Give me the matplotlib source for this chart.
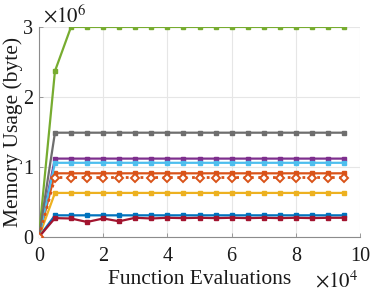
import matplotlib
matplotlib.use("Agg")
import matplotlib.pyplot as plt

plt.rcParams['font.family'] = ['Liberation Serif', 'DejaVu Serif']
plt.rcParams['mathtext.fontset'] = 'stix'

# Function evaluations (x 1e4)
evals = [0, 0.5, 1.0, 1.5, 2.0, 2.5, 3.0, 3.5, 4.0, 4.5,
         5.0, 5.5, 6.0, 6.5, 7.0, 7.5, 8.0, 8.5, 9.0, 9.5]

# Memory usage (x 1e6 bytes)
mem_blue = [0, 0.31, 0.31, 0.31, 0.31, 0.31, 0.31, 0.31, 0.31, 0.31,
            0.31, 0.31, 0.31, 0.31, 0.31, 0.31, 0.31, 0.31, 0.31, 0.31]
mem_orange = [0, 0.91, 0.91, 0.91, 0.91, 0.91, 0.91, 0.91, 0.91, 0.91,
              0.91, 0.91, 0.91, 0.91, 0.91, 0.91, 0.91, 0.91, 0.91, 0.91]
mem_yellow = [0, 0.63, 0.63, 0.63, 0.63, 0.63, 0.63, 0.63, 0.63, 0.63,
              0.63, 0.63, 0.63, 0.63, 0.63, 0.63, 0.63, 0.63, 0.63, 0.63]
mem_purple = [0, 1.12, 1.12, 1.12, 1.12, 1.12, 1.12, 1.12, 1.12, 1.12,
              1.12, 1.12, 1.12, 1.12, 1.12, 1.12, 1.12, 1.12, 1.12, 1.12]
mem_green = [0, 2.37, 3.0, 3.0, 3.0, 3.0, 3.0, 3.0, 3.0, 3.0,
             3.0, 3.0, 3.0, 3.0, 3.0, 3.0, 3.0, 3.0, 3.0, 3.0]
mem_lightblue = [0, 1.06, 1.06, 1.06, 1.06, 1.06, 1.06, 1.06, 1.06, 1.06,
                 1.06, 1.06, 1.06, 1.06, 1.06, 1.06, 1.06, 1.06, 1.06, 1.06]
mem_red = [0, 0.27, 0.265, 0.215, 0.265, 0.225, 0.275, 0.265, 0.275, 0.27,
           0.275, 0.27, 0.275, 0.27, 0.275, 0.27, 0.275, 0.27, 0.275, 0.275]
mem_gray = [0, 1.49, 1.49, 1.49, 1.49, 1.49, 1.49, 1.49, 1.49, 1.49,
            1.49, 1.49, 1.49, 1.49, 1.49, 1.49, 1.49, 1.49, 1.49, 1.49]
mem_orange_dot = [0, 0.85, 0.85, 0.85, 0.85, 0.85, 0.85, 0.85, 0.85, 0.85,
                  0.85, 0.85, 0.85, 0.85, 0.85, 0.85, 0.85, 0.85, 0.85, 0.85]

xticks = [0, 2, 4, 6, 8, 10]
yticks = [0, 1, 2, 3]

fig = plt.figure(figsize=(3.74, 2.93), dpi=100)
ax = fig.add_axes([0.104, 0.191, 0.859, 0.717])

lw = 1.6
ms = 3.2
series = [
    (mem_blue, '#0072BD'),
    (mem_orange, '#D95319'),
    (mem_yellow, '#EDB120'),
    (mem_purple, '#7E2F8E'),
    (mem_green, '#77AC30'),
    (mem_lightblue, '#4DBEEE'),
    (mem_gray, '#6e6e6e'),
    (mem_red, '#A2142F'),
]
for vals, c in series:
    ax.plot(evals, vals, '-', color=c, lw=lw, marker='s', ms=ms, mec=c, mfc=c, zorder=3)
ax.plot(evals, mem_orange_dot, ':', color='#D95319', lw=2.0, marker='D', ms=4,
        mfc='white', mec='#D95319', mew=1.4, zorder=4)

ax.set_xlim(0, 10)
ax.set_ylim(0, 3)
ax.set_xticks(xticks)
ax.set_yticks(yticks)
ax.set_xticklabels([str(v) for v in xticks])
ax.set_yticklabels([str(v) for v in yticks])
ax.grid(True, color='#e6e6e6', lw=0.8, zorder=0)
ax.set_axisbelow(True)
for s in ['top', 'right']:
    ax.spines[s].set_visible(False)
for s in ['left', 'bottom']:
    ax.spines[s].set_color('#8c8c8c')
    ax.spines[s].set_linewidth(0.8)
ax.tick_params(direction='in', length=3, width=0.6, color='#8c8c8c',
               labelsize=14.5, labelcolor='#1a1a1a')
ax.tick_params(axis='x', pad=7)
ax.tick_params(axis='y', pad=4)

ax.set_xlabel('Function Evaluations', fontsize=15.5, color='#1a1a1a', labelpad=3)
ax.set_ylabel('Memory Usage (byte)', fontsize=15.5, color='#1a1a1a', labelpad=0)

fig.text(43 / 374, 1 - 22 / 293, r'$\times10^{6}$', fontsize=15, color='#1a1a1a',
         ha='left', va='baseline')
fig.text(358 / 374, 1 - 292 / 293, r'$\times10^{4}$', fontsize=15, color='#1a1a1a',
         ha='right', va='bottom')

fig.savefig('out.png', dpi=100)
